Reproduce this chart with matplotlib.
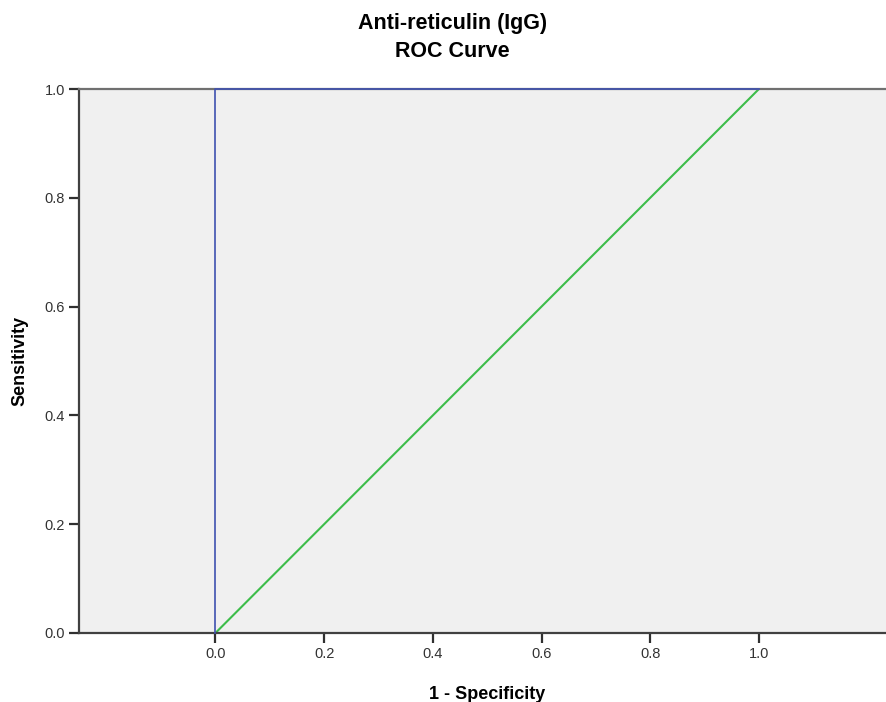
import matplotlib
matplotlib.use("Agg")
import matplotlib.pyplot as plt

# ROC coordinates for the test and the chance diagonal
fpr = [0.0, 0.0, 1.0]
tpr = [0.0, 1.0, 1.0]
ref_x = [0.0, 1.0]
ref_y = [0.0, 1.0]
ticks = [0.0, 0.2, 0.4, 0.6, 0.8, 1.0]
tick_labels = ["0.0", "0.2", "0.4", "0.6", "0.8", "1.0"]

plt.rcParams['font.family'] = ['Liberation Sans', 'DejaVu Sans']

fig = plt.figure(figsize=(8.87, 7.02), dpi=100)
ax = fig.add_axes([0.0891, 0.0983, 0.9109 + 0.01, 0.7749])

ax.set_facecolor("#f0f0f0")
ax.plot(ref_x, ref_y, color="#3dbd4a", lw=1.5, zorder=2)
ax.plot(fpr, tpr, color="#3f51b0", lw=1.2, zorder=3, clip_on=False)

ax.set_xlim(-0.251, 1.252)
ax.set_ylim(0.0, 1.0)
ax.set_xticks(ticks)
ax.set_xticklabels(tick_labels)
ax.set_yticks(ticks)
ax.set_yticklabels(tick_labels)

for side in ["left", "bottom", "top"]:
    ax.spines[side].set_color("#404040")
    ax.spines[side].set_linewidth(1.6)
ax.spines["top"].set_color("#707070")
ax.spines["right"].set_visible(False)

ax.tick_params(direction="out", length=7, width=1.6, color="#303030",
               labelsize=10.5, labelcolor="#333333", pad=3)

ax.set_xlabel("1 - Specificity", fontsize=13, fontweight="bold", labelpad=18)
ax.set_ylabel("Sensitivity", fontsize=13, fontweight="bold", labelpad=12)

fig.text(0.51, 0.967, "Anti-reticulin (IgG)", ha="center", va="center",
         fontsize=15.5, fontweight="bold")
fig.text(0.51, 0.926, "ROC Curve", ha="center", va="center",
         fontsize=15.5, fontweight="bold")

fig.savefig("out.png", dpi=100)
